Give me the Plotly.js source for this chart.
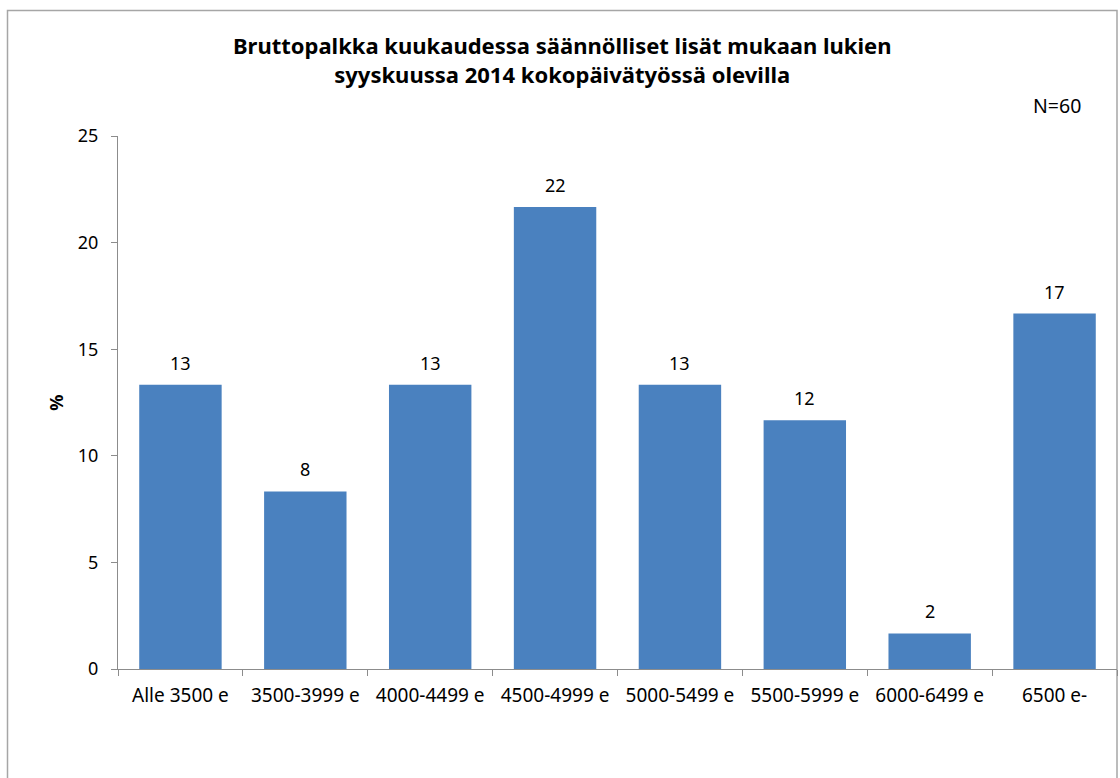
<!DOCTYPE html>
<html>
<head>
<meta charset="utf-8">
<script src="https://cdn.plot.ly/plotly-3.0.1.min.js"></script>
<style>html,body{margin:0;padding:0;background:#fff;}#chart{width:1120px;height:778px;}</style>
</head>
<body>
<div id="chart"></div>
<script>
const categories = ["Alle 3500 e", "3500-3999 e", "4000-4499 e", "4500-4999 e", "5000-5499 e", "5500-5999 e", "6000-6499 e", "6500 e-"];
const percentValues = [13.33, 8.33, 13.33, 21.67, 13.33, 11.67, 1.67, 16.67];
const yTicks = [0, 5, 10, 15, 20, 25];
const chartTitle = "Bruttopalkka kuukaudessa säännölliset lisät mukaan lukien<br>syyskuussa 2014 kokopäivätyössä olevilla";
const nLabel = "N=60";

const font = "'Noto Sans', 'Open Sans', sans-serif";
const trace = {
  type: "bar",
  x: categories,
  y: percentValues,
  marker: {color: "#4a81bf"},
  hoverinfo: "x+y"
};
const valueLabels = categories.map((c, i) => ({
  x: c, y: percentValues[i], xref: "x", yref: "y",
  text: String(Math.round(percentValues[i])),
  showarrow: false, xanchor: "center", yanchor: "bottom", yshift: 8,
  font: {family: font, size: 18, color: "#000"}
}));
const layout = {
  width: 1120, height: 778,
  margin: {l: 118, r: 3, t: 136, b: 109},
  paper_bgcolor: "#fff", plot_bgcolor: "#fff",
  bargap: 0.34,
  showlegend: false,
  title: {text: chartTitle, x: 0.502, xanchor: "center", yref: "container", y: 1 - 54 / 778, yanchor: "top",
          font: {family: font, size: 22, color: "#000", weight: "bold"}},
  xaxis: {
    showline: true, linecolor: "#8c8c8c", linewidth: 1,
    ticks: "outside", tickson: "boundaries", ticklen: 6, tickcolor: "#8c8c8c",
    tickfont: {family: font, size: 19, color: "#000"}, ticklabelstandoff: 9,
    showgrid: false, zeroline: false, automargin: false
  },
  yaxis: {
    range: [0, 25], tickvals: yTicks,
    showline: true, linecolor: "#8c8c8c", linewidth: 1,
    ticks: "outside", ticklen: 6, tickcolor: "#8c8c8c",
    tickfont: {family: font, size: 18, color: "#000"}, ticklabelstandoff: 9,
    showgrid: false, zeroline: false, automargin: false,
    title: {text: "%", standoff: 9, font: {family: font, size: 18, color: "#000", weight: "bold"}}
  },
  annotations: valueLabels.concat([{
    text: nLabel, xref: "paper", yref: "paper", x: 0.94, y: (669 - 106) / 533,
    xanchor: "center", yanchor: "middle", showarrow: false,
    font: {family: font, size: 19.5, color: "#000"}
  }]),
  shapes: [{
    type: "rect", xref: "paper", yref: "paper",
    x0: (7.5 - 118) / 999, x1: 1.0, y0: -0.3, y1: (669 - 10.5) / 533,
    line: {color: "#a6a6a6", width: 1.5}, fillcolor: "rgba(0,0,0,0)", layer: "below"
  }]
};
Plotly.newPlot("chart", [trace], layout, {displayModeBar: false, staticPlot: true});
</script>
</body>
</html>
